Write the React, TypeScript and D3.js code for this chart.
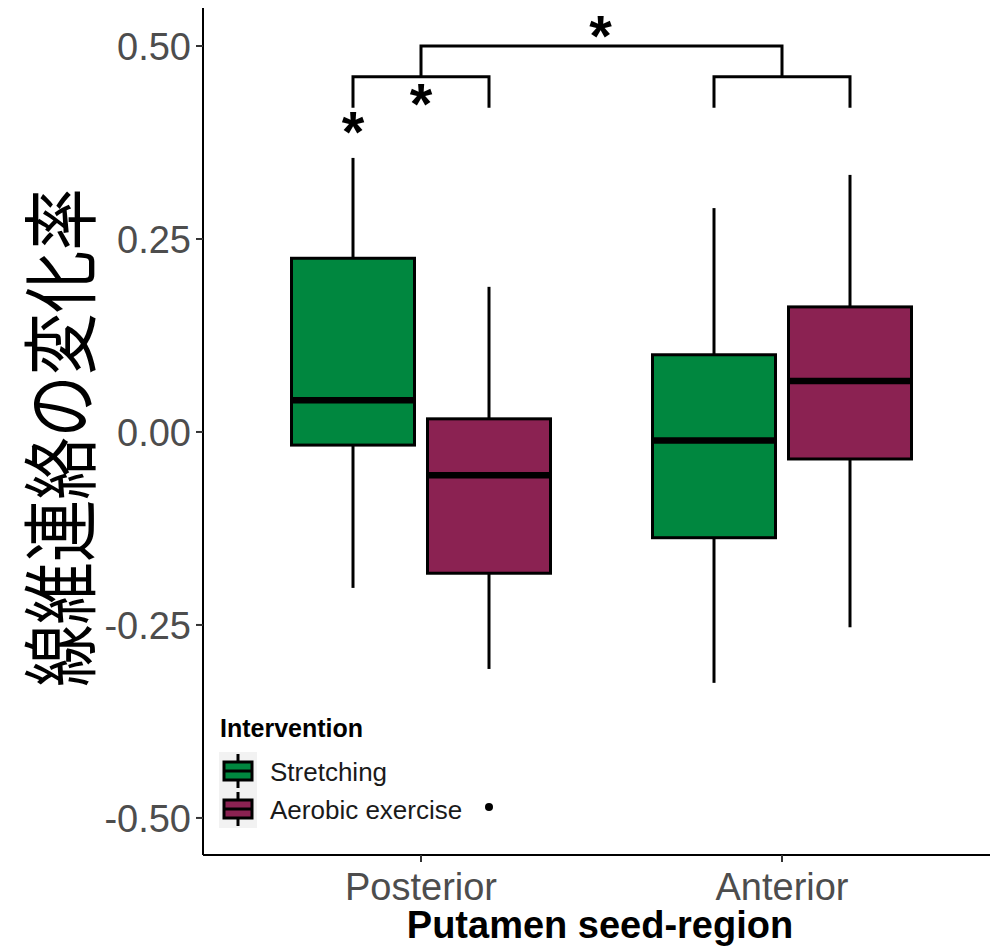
import React from 'react';
import * as d3 from 'd3';

// seed regions and intervention groups
const regions = ['Posterior', 'Anterior'];
const groups = ['Stretching', 'Aerobic exercise'];
const groupColors = ['#00873f', '#8b2252'];

// five-number summaries: [lower, q1, median, q3, upper]
const posteriorStretching = [-0.202, -0.017, 0.041, 0.225, 0.355];
const posteriorAerobic = [-0.307, -0.183, -0.056, 0.017, 0.188];
const anteriorStretching = [-0.325, -0.137, -0.011, 0.1, 0.29];
const anteriorAerobic = [-0.253, -0.035, 0.066, 0.162, 0.333];

const yTicks = [0.5, 0.25, 0, -0.25, -0.5];

// significance brackets
const bracketLow = 0.46;
const bracketLeg = 0.42;
const bracketTop = 0.5;

const W = 990;
const H = 947;

export default function App() {
  const left = 203;
  const top = 8;
  const bottom = 855;

  const y = d3.scaleLinear().domain([-0.548, 0.5492]).range([bottom, top]);
  const x = d3.scalePoint<string>().domain(regions).range([421, 782]);
  const dodge = d3.scaleBand<string>().domain(groups).range([-129.5, 129.5]).paddingInner(0.0956);
  const color = d3.scaleOrdinal<string, string>().domain(groups).range(groupColors);

  const boxes = [
    { region: 'Posterior', group: groups[0], v: posteriorStretching },
    { region: 'Posterior', group: groups[1], v: posteriorAerobic },
    { region: 'Anterior', group: groups[0], v: anteriorStretching },
    { region: 'Anterior', group: groups[1], v: anteriorAerobic },
  ];
  const cx = (r: string, g: string) => (x(r) as number) + (dodge(g) as number) + dodge.bandwidth() / 2;
  const bw = dodge.bandwidth();

  const font = '"Liberation Sans", Arial, sans-serif';
  const pL = cx('Posterior', groups[0]);
  const pR = cx('Posterior', groups[1]);
  const aL = cx('Anterior', groups[0]);
  const aR = cx('Anterior', groups[1]);
  const px = x('Posterior') as number;
  const ax = x('Anterior') as number;

  const bracketPath = (l: number, r: number) =>
    `M${l},${y(bracketLeg)}V${y(bracketLow)}H${r}V${y(bracketLeg)}`;

  // ggplot-style labels with a plain hyphen for negatives
  const fmt = (t: number) => d3.format('.2f')(t).replace('−', '-');

  return (
    <svg width={W} height={H} style={{ display: 'block', position: 'absolute', left: 0, top: 0 }}>
      <rect width={W} height={H} fill="#fff" />

      {/* boxes */}
      {boxes.map((b, i) => {
        const c = cx(b.region, b.group);
        const [lo, q1, md, q3, hi] = b.v;
        return (
          <g key={i}>
            <line x1={c} x2={c} y1={y(hi)} y2={y(q3)} stroke="#000" strokeWidth={3} />
            <line x1={c} x2={c} y1={y(q1)} y2={y(lo)} stroke="#000" strokeWidth={3} />
            <rect x={c - bw / 2} y={y(q3)} width={bw} height={y(q1) - y(q3)} fill={color(b.group)} stroke="#000" strokeWidth={3} />
            <line x1={c - bw / 2} x2={c + bw / 2} y1={y(md)} y2={y(md)} stroke="#000" strokeWidth={6.5} />
          </g>
        );
      })}

      {/* brackets */}
      <g fill="none" stroke="#000" strokeWidth={3}>
        <path d={bracketPath(pL, pR)} />
        <path d={bracketPath(aL, aR)} />
        <path d={`M${px},${y(bracketLow)}V${y(bracketTop)}H${ax}V${y(bracketLow)}`} />
      </g>
      <g fontFamily={font} fontWeight="bold" fontSize={58} textAnchor="middle" fill="#000">
        <text x={(px + ax) / 2 - 1} y={y(bracketTop) + 10}>*</text>
        <text x={px} y={y(bracketLow) + 47}>*</text>
        <text x={pL} y={y(bracketLow) + 75}>*</text>
      </g>

      {/* axes */}
      <line x1={left} x2={left} y1={top} y2={bottom} stroke="#000" strokeWidth={2} />
      <line x1={left} x2={W} y1={bottom} y2={bottom} stroke="#000" strokeWidth={2} />
      {yTicks.map(t => (
        <g key={t}>
          <line x1={left - 7} x2={left} y1={y(t)} y2={y(t)} stroke="#333" strokeWidth={2} />
          <text x={left - 12} y={y(t)} dy="0.36em" textAnchor="end" fontFamily={font} fontSize={38} fill="#4d4d4d">
            {fmt(t)}
          </text>
        </g>
      ))}
      {regions.map(r => (
        <g key={r}>
          <line x1={x(r)} x2={x(r)} y1={bottom} y2={bottom + 7} stroke="#333" strokeWidth={2} />
          <text x={x(r)} y={bottom + 45} textAnchor="middle" fontFamily={font} fontSize={38} fill="#4d4d4d">{r}</text>
        </g>
      ))}
      <text x={600} y={938} textAnchor="middle" fontFamily={font} fontWeight="bold" fontSize={38} fill="#000">
        Putamen seed-region
      </text>
      <text
        transform={`translate(89,${(top + bottom) / 2 + 6}) rotate(-90) scale(0.82,1)`}
        textAnchor="middle"
        fontFamily='"Noto Sans CJK JP", sans-serif'
        fontSize={76}
        fill="#000"
      >
        線維連絡の変化率
      </text>

      {/* legend */}
      <g fontFamily={font}>
        <text x={220} y={737} fontWeight="bold" fontSize={25} fill="#000">Intervention</text>
        {groups.map((g, i) => {
          const ky = 752 + i * 38;
          const kc = ky + 19;
          return (
            <g key={g}>
              <rect x={219} y={ky} width={38} height={38} fill="#f2f2f2" />
              <line x1={238} x2={238} y1={ky + 2} y2={ky + 36} stroke="#000" strokeWidth={3} />
              <rect x={224} y={kc - 9} width={28} height={18} fill={color(g)} stroke="#000" strokeWidth={3} />
              <line x1={224} x2={252} y1={kc} y2={kc} stroke="#000" strokeWidth={3} />
              <text x={270} y={kc + 10} fontSize={26} fill="#1a1a1a">{g}</text>
            </g>
          );
        })}
        <circle cx={489} cy={807} r={4} fill="#000" />
      </g>
    </svg>
  );
}
